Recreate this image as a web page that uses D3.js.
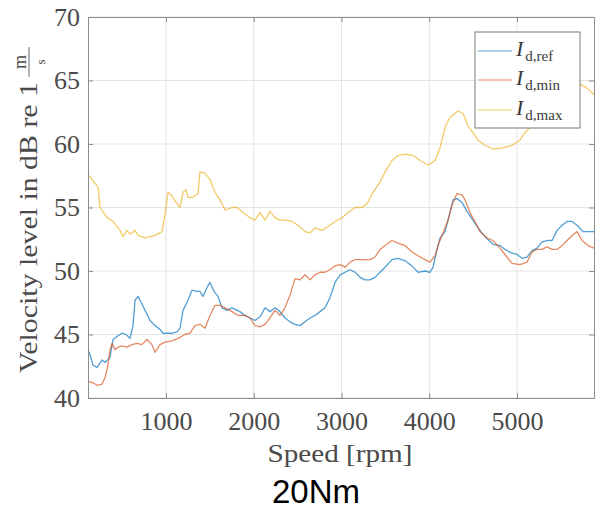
<!DOCTYPE html>
<html>
<head>
<meta charset="utf-8">
<script src="https://cdn.jsdelivr.net/npm/d3@7"></script>
<style>
  html, body { margin: 0; padding: 0; background: #fff; }
  svg { display: block; }
</style>
</head>
<body>
<svg id="chart" width="595" height="511"></svg>
<script>
// ── Data ──────────────────────────────────────────────────────────────────────
const xTicks = [1000, 2000, 3000, 4000, 5000];
const yTicks = [40, 45, 50, 55, 60, 65, 70];

const refSpeed = [111,134,168,214,271,305,362,396,453,498,544,590,624,647,681,726,761,818,875,932,966,1023,1068,1125,1159,1194,1251,1296,1353,1387,1422,1467,1501,1547,1592,1638,1695,1752,1843,1900,1957,2014,2071,2128,2185,2242,2299,2356,2413,2470,2527,2584,2641,2698,2755,2812,2869,2926,2983,3040,3097,3154,3211,3268,3325,3382,3439,3496,3575,3644,3724,3803,3872,3952,4009,4043,4088,4123,4179,4236,4271,4316,4373,4430,4487,4555,4635,4726,4806,4863,4943,5000,5057,5114,5171,5228,5285,5342,5399,5456,5513,5570,5627,5684,5752,5832,5877];
const refLevel = [43.8,43.4,42.6,42.4,43.0,42.8,43.2,44.6,44.9,45.1,45.0,44.7,45.7,47.7,48.0,47.4,46.9,46.1,45.7,45.4,45.1,45.1,45.1,45.2,45.5,46.9,47.7,48.5,48.4,48.4,48.0,48.7,49.1,48.4,48.0,47.1,46.9,47.1,46.8,46.5,46.3,46.1,46.4,47.1,46.8,47.1,46.8,46.3,46.0,45.8,45.7,46.0,46.3,46.5,46.8,47.1,47.9,49.1,49.7,49.9,50.1,49.9,49.5,49.3,49.3,49.5,49.9,50.3,50.9,51.0,50.8,50.4,49.9,50.0,49.9,50.3,51.7,52.6,53.1,54.6,55.6,55.7,55.4,54.7,54.1,53.4,52.7,52.1,52.0,51.7,51.4,51.3,51.0,51.1,51.6,51.8,52.3,52.4,52.4,53.2,53.6,53.9,53.9,53.6,53.1,53.1,53.1];

const minSpeed = [111,168,214,271,305,339,362,385,419,453,498,555,612,669,726,783,840,875,932,988,1068,1137,1216,1273,1330,1387,1444,1501,1558,1615,1672,1752,1820,1900,1957,2014,2071,2128,2162,2242,2299,2356,2413,2470,2527,2584,2641,2698,2755,2812,2869,2926,2983,3040,3097,3154,3234,3325,3382,3439,3496,3575,3644,3724,3803,3872,3952,4009,4066,4100,4145,4214,4259,4316,4373,4407,4464,4521,4578,4658,4726,4806,4863,4943,5034,5114,5171,5228,5285,5342,5399,5456,5513,5570,5627,5684,5741,5809,5877];
const minLevel = [41.3,41.2,41.0,41.1,41.6,42.6,43.8,44.3,43.8,44.0,44.1,44.0,44.2,44.3,44.2,44.6,44.2,43.6,44.2,44.4,44.5,44.7,45.0,45.1,45.7,45.8,45.5,46.5,47.3,47.3,47.1,46.8,46.5,46.5,46.3,45.7,45.6,45.8,46.1,46.9,46.5,47.1,48.1,49.4,49.3,49.7,49.3,49.7,49.9,49.9,50.1,50.4,50.5,50.3,50.7,50.9,50.9,50.9,51.1,51.7,52.0,52.4,52.2,52.0,51.5,51.2,50.9,50.7,51.2,52.0,52.8,54.0,55.2,56.1,56.0,55.6,54.6,53.9,53.1,52.6,52.4,51.8,51.3,50.6,50.5,50.7,51.5,51.7,51.7,51.9,51.7,51.7,52.0,52.4,52.8,53.1,52.4,52.0,51.8];

const maxSpeed = [111,225,248,328,396,476,510,555,590,647,681,761,875,954,988,1023,1068,1114,1159,1194,1228,1251,1308,1365,1387,1444,1501,1558,1615,1672,1752,1809,1877,1957,2014,2071,2128,2185,2242,2299,2356,2436,2504,2584,2641,2698,2777,2846,2926,3006,3074,3154,3234,3291,3359,3439,3496,3575,3644,3724,3815,3895,3990,4066,4123,4179,4236,4328,4385,4442,4498,4555,4635,4726,4840,4943,5034,5091,5171,5319,5490,5627,5695,5798,5877];
const maxLevel = [57.6,56.6,55.0,54.2,53.9,53.2,52.7,53.2,52.9,53.2,52.8,52.6,52.8,53.1,54.4,56.2,55.9,55.4,55.0,56.2,56.4,55.8,55.8,56.1,57.8,57.7,57.2,56.2,55.6,54.8,55.0,55.0,54.6,54.2,54.0,54.6,54.0,54.7,54.2,54.0,54.0,53.9,53.6,53.1,53.0,53.4,53.2,53.5,53.9,54.2,54.6,55.0,55.0,55.3,56.2,57.0,57.8,58.7,59.1,59.2,59.1,58.7,58.35,58.7,59.7,61.3,62.1,62.6,62.4,61.4,60.9,60.3,59.9,59.6,59.7,59.9,60.3,60.9,61.5,62.7,63.8,64.5,64.8,64.4,63.9];

const seriesNames = ['ref', 'min', 'max'];
const seriesColors = ['#0072BD', '#D95319', '#EDB120'];

// ── Layout ────────────────────────────────────────────────────────────────────
const svg = d3.select('#chart');
const L = 88, R = 594, T = 17, B = 398;

const x = d3.scaleLinear().domain([111, 5877]).range([L, R]);
const y = d3.scaleLinear().domain([40, 70]).range([B, T]);

const serif = '"Liberation Serif", "DejaVu Serif", serif';
const txtGray = '#4a4a4a';

// grid
const grid = svg.append('g');
grid.selectAll('.gx').data(xTicks).join('line')
  .attr('x1', d => x(d)).attr('x2', d => x(d)).attr('y1', T).attr('y2', B)
  .attr('stroke', '#e4e4e4').attr('stroke-width', 1);
grid.selectAll('.gy').data(yTicks).join('line')
  .attr('x1', L).attr('x2', R).attr('y1', d => y(d)).attr('y2', d => y(d))
  .attr('stroke', '#e4e4e4').attr('stroke-width', 1);

// clip
svg.append('clipPath').attr('id', 'clip')
  .append('rect').attr('x', L).attr('y', T).attr('width', R - L).attr('height', B - T);

const line = d3.line().x(d => x(d[0])).y(d => y(d[1]));
const plot = svg.append('g').attr('clip-path', 'url(#clip)');
const series = [
  d3.zip(refSpeed, refLevel),
  d3.zip(minSpeed, minLevel),
  d3.zip(maxSpeed, maxLevel)
];
series.forEach((s, i) => {
  plot.append('path').datum(s).attr('d', line)
    .attr('fill', 'none').attr('stroke', seriesColors[i])
    .attr('stroke-width', 1.3).attr('stroke-opacity', 0.68)
    .attr('stroke-linejoin', 'round');
});

// axes (box on, ticks inside)
const axisColor = '#8c8c8c';
const xAxis = d3.axisBottom(x).tickValues(xTicks).tickSize(-5).tickPadding(14).tickFormat(d3.format('d'));
const yAxis = d3.axisLeft(y).tickValues(yTicks).tickSize(-5).tickPadding(8).tickFormat(d3.format('d'));

const gx = svg.append('g').attr('transform', `translate(0,${B})`).call(xAxis);
const gy = svg.append('g').attr('transform', `translate(${L},0)`).call(yAxis);
svg.append('g').attr('transform', `translate(0,${T})`)
  .call(d3.axisTop(x).tickValues(xTicks).tickSize(-5).tickFormat(''));
svg.append('g').attr('transform', `translate(${R},0)`)
  .call(d3.axisRight(y).tickValues(yTicks).tickSize(-5).tickFormat(''));

svg.selectAll('.domain').attr('stroke', axisColor);
svg.selectAll('.tick line').attr('stroke', axisColor);
[gx, gy].forEach(g => g.selectAll('.tick text')
  .attr('font-family', serif).attr('font-size', 26).attr('fill', txtGray));
gx.selectAll('.tick text').attr('dy', '0.71em');

// axis labels
svg.append('text')
  .attr('x', 340).attr('y', 462).attr('text-anchor', 'middle')
  .attr('font-family', serif).attr('font-size', 26).attr('fill', txtGray)
  .attr('textLength', 145).attr('lengthAdjust', 'spacingAndGlyphs')
  .text('Speed [rpm]');

const yl = svg.append('g').attr('transform', 'translate(37,373) rotate(-90)');
const tl = 291;
yl.append('text')
  .attr('x', 0).attr('y', 0)
  .attr('font-family', serif).attr('font-size', 26).attr('fill', txtGray)
  .attr('textLength', tl).attr('lengthAdjust', 'spacingAndGlyphs')
  .text('Velocity level in dB re 1');
const fx = tl + 5;
yl.append('text').attr('x', fx + 15).attr('y', -11).attr('text-anchor', 'middle')
  .attr('font-family', serif).attr('font-size', 18).attr('fill', txtGray).text('m');
yl.append('line').attr('x1', fx).attr('x2', fx + 30).attr('y1', -8).attr('y2', -8)
  .attr('stroke', '#666').attr('stroke-width', 1);
yl.append('text').attr('x', fx + 15).attr('y', 8).attr('text-anchor', 'middle')
  .attr('font-family', serif).attr('font-size', 13).attr('fill', txtGray).text('s');

// legend
const lg = svg.append('g');
lg.append('rect').attr('x', 475).attr('y', 32).attr('width', 105).attr('height', 96)
  .attr('fill', '#fff').attr('stroke', '#7a7a7a').attr('stroke-width', 1);
const legY = [51, 80, 110];
seriesNames.forEach((n, i) => {
  lg.append('line').attr('x1', 478).attr('x2', 512).attr('y1', legY[i]).attr('y2', legY[i])
    .attr('stroke', seriesColors[i]).attr('stroke-width', 1.5).attr('stroke-opacity', 0.45);
  const t = lg.append('text').attr('x', 516).attr('y', legY[i] + 5)
    .attr('font-family', serif).attr('fill', '#3a3a3a');
  t.append('tspan').attr('font-size', 22).attr('font-style', 'italic').text('I');
  t.append('tspan').attr('font-size', 15).attr('dy', 5).attr('dx', 2).text('d,' + n);
});

// title
svg.append('text')
  .attr('x', 316).attr('y', 503).attr('text-anchor', 'middle')
  .attr('font-family', '"Liberation Sans", Arial, sans-serif').attr('font-size', 33)
  .attr('fill', '#000').text('20Nm');
</script>
</body>
</html>
